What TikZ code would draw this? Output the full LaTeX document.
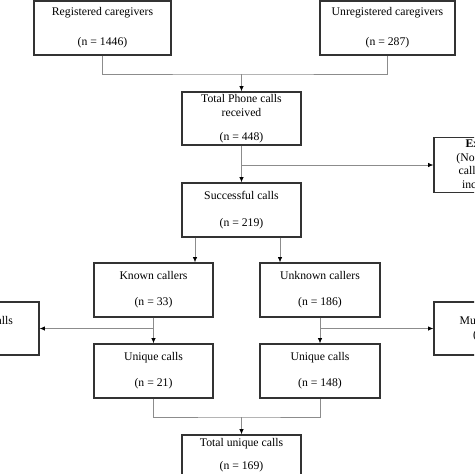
\documentclass[tikz,border=0pt]{standalone}
\usepackage{fontspec}
\setmainfont{Liberation Serif}
\usepackage{xcolor}
\usetikzlibrary{arrows.meta,positioning}

\begin{document}
\begin{tikzpicture}[
  x=0.03cm, y=-0.03cm,
  box/.style={draw=black!80, line width=1pt, align=center, inner sep=2pt,
    minimum width=3.57cm, minimum height=1.62cm,
    font=\fontsize{10}{11.5}\selectfont},
  link/.style={draw=black!45, line width=0.6pt},
  arr/.style={link, -{Latex[length=1.6mm, width=1.3mm, color=black]}}
]
\clip (0,0) rectangle (474,474);
\fill[white] (0,0) rectangle (474,474);

% sources
\node[box, minimum width=4.11cm] (reg) at (102.5,28) {Registered caregivers\\[14pt](n = 1446)};
\node[box, minimum width=4.05cm] (unreg) at (387.5,28) {Unregistered caregivers\\[14pt](n = 287)};
\node[box, minimum height=1.59cm] (total) at (241.5,118.5) {Total Phone calls\\received\\[9pt](n = 448)};
\node[box, minimum width=3.36cm] (excl) at (490,165) {\textbf{Exclusion}\\(No answer or\\calls dropped\\incomplete)};
\node[box] (succ) at (241.5,210) {Successful calls\\[11pt](n = 219)};

% callers
\node[box] (known) at (153.5,290) {Known callers\\[10.5pt](n = 33)};
\node[box, minimum width=3.6cm] (unknown) at (320,290) {Unknown callers\\[10.5pt](n = 186)};
\node[box, minimum width=3.6cm, minimum height=1.59cm] (rep1) at (-21,328.5) {Repeated calls\\(n = 12)};
\node[box, minimum width=3.48cm, minimum height=1.59cm] (rep2) at (492,328.5) {Multiple calls\\(n = 38)};
\node[box] (uniq1) at (153.5,371) {Unique calls\\[10.5pt](n = 21)};
\node[box, minimum width=3.6cm] (uniq2) at (320,371) {Unique calls\\[10.5pt](n = 148)};
\node[box, minimum height=1.2cm] (totu) at (241.5,455) {Total unique calls\\[8pt](n = 169)};

\coordinate (join) at (241.5,74);
\coordinate (merge) at (241.5,417);

\draw[link] (reg.south) |- (join) -| (unreg.south);
\draw[arr] (join) -- (total.north);
\draw[arr] (total) -- (succ);
\draw[arr] (total.south |- excl.west) -- (excl.west);
\draw[arr] ([xshift=-1.395cm]succ.south) -- ([xshift=-1.395cm]succ.south |- known.north);
\draw[arr] ([xshift=1.155cm]succ.south) -- ([xshift=1.155cm]succ.south |- unknown.north);
\draw[arr] (known) -- (uniq1);
\draw[arr] (unknown) -- (uniq2);
\draw[arr] (known.south |- rep1.east) -- (rep1.east);
\draw[arr] (unknown.south |- rep2.west) -- (rep2.west);
\draw[link] (uniq1.south) |- (merge) -| (uniq2.south);
\draw[arr] (merge) -- (totu.north);
\end{tikzpicture}
\end{document}
